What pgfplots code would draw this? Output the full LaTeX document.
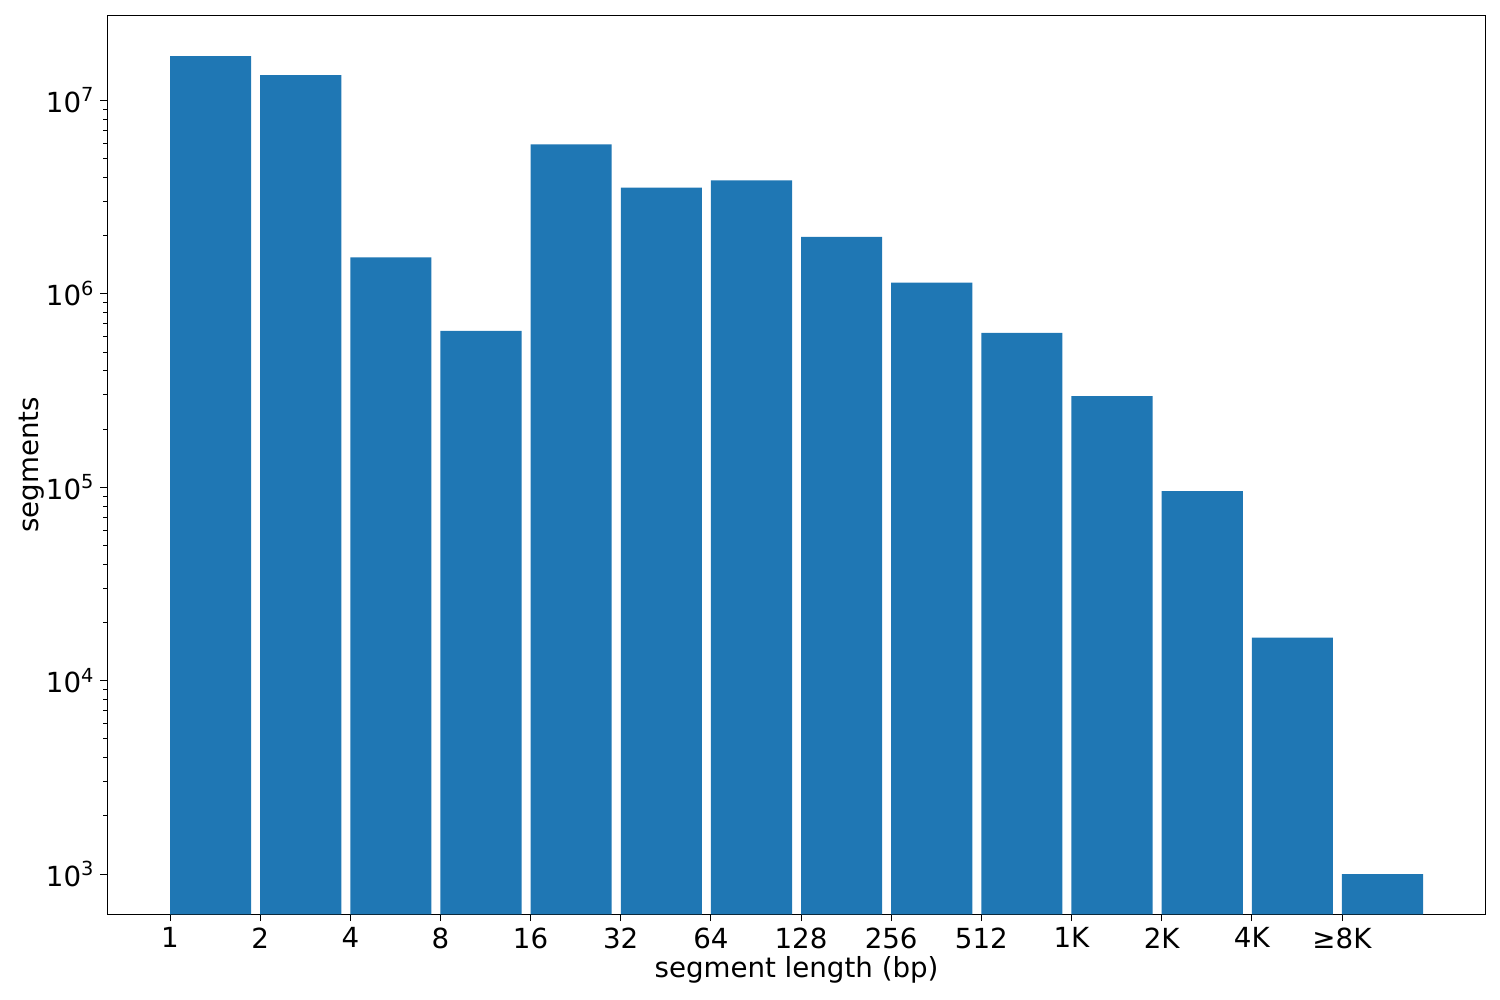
\documentclass[border=0pt]{standalone}
\usepackage{fontspec}
\setmainfont{DejaVu Sans}
\usepackage{pgfplots}
\pgfplotsset{compat=1.18}

\definecolor{mplblue}{HTML}{1F77B4}

\begin{document}
\begin{tikzpicture}[x=1bp,y=1bp]
	\path[use as bounding box] (0,0) rectangle (1080,720);
	\begin{axis}[
	at={(77.3bp,61.7bp)},
	anchor=south west,
	scale only axis,
	width=992.4bp,
	height=647.3bp,
	ymode=log,
	log origin=infty,
	xmin=-0.695, xmax=14.595,
	ymin=620, ymax=2.75e7,
	xtick={0,1,...,13},
	xticklabels={1,2,4,8,16,32,64,128,256,512,1K,2K,4K,≥8K},
	ytick={1e3,1e4,1e5,1e6,1e7},
	yticklabels={10\textsuperscript{3},10\textsuperscript{4},10\textsuperscript{5},10\textsuperscript{6},10\textsuperscript{7}},
	tick align=outside,
	tick pos=left,
	major tick length=5bp,
	minor tick length=3bp,
	tick style={black, line width=0.6bp},
	axis line style={line width=0.6bp},
	ticklabel style={font=\fontsize{20}{22}\selectfont},
	label style={font=\fontsize{20}{22}\selectfont},
	xlabel={segment length (bp)},
	ylabel={segments},
	xlabel style={yshift=1bp},
	ylabel style={yshift=-5.5bp},
	xticklabel style={yshift=-1bp},
	yticklabel style={xshift=-1bp},
	]
	\addplot[ybar, bar width=0.9, bar shift=0.45, fill=mplblue, draw=none] coordinates {
		(0, 1.69e7)
		(1, 1.35e7)
		(2, 1.54e6)
		(3, 6.43e5)
		(4, 5.91e6)
		(5, 3.54e6)
		(6, 3.85e6)
		(7, 1.97e6)
		(8, 1.14e6)
		(9, 6.28e5)
		(10, 2.96e5)
		(11, 9.53e4)
		(12, 1.67e4)
		(13, 1.0e3)
	};
	\end{axis}
\end{tikzpicture}
\end{document}
